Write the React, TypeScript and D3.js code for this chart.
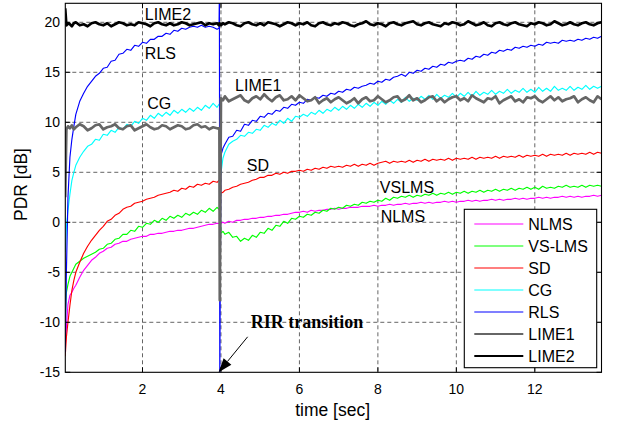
import React from 'react';
import * as d3 from 'd3';

// ---------------- data ----------------
const TIME = [
  0.03, 0.06, 0.1, 0.15, 0.2, 0.25, 0.3, 0.4, 0.5, 0.6,
  0.7, 0.8, 0.9, 1.0, 1.1, 1.2, 1.3, 1.4, 1.5, 1.6,
  1.7, 1.8, 1.9, 2.0, 2.1, 2.2, 2.3, 2.4, 2.5, 2.6,
  2.7, 2.8, 2.9, 3.0, 3.1, 3.2, 3.3, 3.4, 3.5, 3.6,
  3.7, 3.8, 3.9, 3.95,
  3.96, 3.97, 4.0, 4.05,
  4.1, 4.2, 4.3, 4.4, 4.5, 4.6, 4.7, 4.8, 4.9,
  5.0, 5.1, 5.2, 5.3, 5.4, 5.5, 5.6, 5.7, 5.8, 5.9,
  6.0, 6.1, 6.2, 6.3, 6.4, 6.5, 6.6, 6.7, 6.8, 6.9,
  7.0, 7.1, 7.2, 7.3, 7.4, 7.5, 7.6, 7.7, 7.8, 7.9,
  8.0, 8.1, 8.2, 8.3, 8.4, 8.5, 8.6, 8.7, 8.8, 8.9,
  9.0, 9.1, 9.2, 9.3, 9.4, 9.5, 9.6, 9.7, 9.8, 9.9,
  10.0, 10.1, 10.2, 10.3, 10.4, 10.5, 10.6, 10.7, 10.8, 10.9,
  11.0, 11.1, 11.2, 11.3, 11.4, 11.5, 11.6, 11.7, 11.8, 11.9,
  12.0, 12.1, 12.2, 12.3, 12.4, 12.5, 12.6, 12.7, 12.8, 12.9,
  13.0, 13.1, 13.2, 13.3, 13.4, 13.5, 13.6, 13.7,
];

const NLMS = [
  -12.5, -10.5, -8.2, -7.3, -7.0, -6.6, -6.3, -5.5, -4.8, -4.3,
  -3.8, -3.5, -3.1, -2.9, -2.6, -2.5, -2.2, -2.1, -1.9, -1.9,
  -1.7, -1.6, -1.5, -1.4, -1.4, -1.2, -1.2, -1.1, -1.1, -1.0,
  -0.9, -0.9, -0.8, -0.8, -0.7, -0.6, -0.6, -0.5, -0.4, -0.3,
  -0.2, -0.2, -0.1, -0.1,
  -0.1, -0.1, -0.1, 0.0,
  -0.1, 0.1, 0.0, 0.2, 0.2, 0.3, 0.3, 0.4, 0.4,
  0.5, 0.5, 0.6, 0.6, 0.7, 0.7, 0.8, 0.8, 0.9, 1.0,
  1.0, 1.1, 1.0, 1.2, 1.1, 1.2, 1.2, 1.3, 1.3, 1.4,
  1.3, 1.4, 1.4, 1.5, 1.5, 1.5, 1.6, 1.6, 1.6, 1.7,
  1.6, 1.7, 1.7, 1.8, 1.7, 1.8, 1.8, 1.9, 1.8, 1.9,
  1.9, 2.0, 1.9, 2.0, 1.9, 2.0, 2.0, 2.1, 2.0, 2.1,
  2.0, 2.1, 2.1, 2.2, 2.1, 2.2, 2.1, 2.2, 2.2, 2.3,
  2.2, 2.3, 2.2, 2.3, 2.3, 2.4, 2.3, 2.4, 2.3, 2.4,
  2.4, 2.5, 2.4, 2.5, 2.4, 2.5, 2.5, 2.6, 2.5, 2.6,
  2.5, 2.6, 2.5, 2.6, 2.6, 2.7, 2.6, 2.7,
];

const VSLMS = [
  -9.5, -7.0, -6.2, -5.4, -5.0, -4.6, -4.2, -3.9, -3.6, -3.4,
  -3.2, -3.0, -2.7, -2.6, -2.2, -2.1, -1.7, -1.6, -1.2, -1.2,
  -0.8, -0.9, -0.4, -0.5, -0.1, -0.2, 0.2, 0.0, 0.4, 0.2,
  0.6, 0.4, 0.7, 0.5, 0.9, 0.7, 1.0, 0.8, 1.2, 1.0,
  1.4, 1.1, 1.5, 1.3,
  1.4, 1.4, -1.1, -0.9,
  -1.2, -1.0, -1.5, -1.4, -1.9, -1.6, -1.8, -1.3, -1.5,
  -1.0, -1.1, -0.6, -0.8, -0.3, -0.4, 0.1, -0.1, 0.4, 0.3,
  0.6, 0.5, 0.8, 0.7, 1.0, 0.9, 1.2, 1.1, 1.4, 1.3,
  1.5, 1.4, 1.7, 1.6, 1.8, 1.7, 2.0, 1.9, 2.1, 2.0,
  2.2, 2.1, 2.4, 2.2, 2.5, 2.4, 2.6, 2.5, 2.7, 2.5,
  2.7, 2.6, 2.8, 2.7, 2.9, 2.7, 2.9, 2.8, 3.0, 2.8,
  3.0, 2.9, 3.1, 2.9, 3.1, 3.0, 3.2, 3.0, 3.2, 3.1,
  3.3, 3.1, 3.3, 3.2, 3.4, 3.2, 3.4, 3.3, 3.5, 3.3,
  3.5, 3.3, 3.6, 3.4, 3.5, 3.4, 3.6, 3.5, 3.7, 3.5,
  3.6, 3.5, 3.7, 3.5, 3.7, 3.6, 3.7, 3.6,
];

const SD = [
  -13.4, -11.5, -10.0, -8.3, -6.8, -5.8, -5.0, -4.0, -3.1, -2.4,
  -1.8, -1.3, -0.8, -0.4, 0.1, 0.3, 0.7, 0.9, 1.3, 1.5,
  1.6, 1.9, 2.0, 2.1, 2.3, 2.4, 2.5, 2.7, 2.8, 2.9,
  3.0, 3.2, 3.1, 3.4, 3.3, 3.6, 3.5, 3.8, 3.7, 3.9,
  3.8, 4.1, 4.0, 4.2,
  4.1, 4.1, 2.9, 3.0,
  3.2, 3.3, 3.5, 3.6, 3.8, 3.9, 4.0, 4.2, 4.3,
  4.5, 4.5, 4.7, 4.7, 4.9, 4.8, 5.0, 4.9, 5.1, 5.1,
  5.2, 5.1, 5.3, 5.2, 5.4, 5.3, 5.5, 5.4, 5.6, 5.5,
  5.6, 5.5, 5.7, 5.6, 5.8, 5.6, 5.8, 5.7, 5.9, 5.7,
  5.9, 6.0, 6.1, 5.9, 6.1, 6.0, 6.1, 6.0, 6.2, 6.0,
  6.2, 6.1, 6.3, 6.1, 6.3, 6.2, 6.3, 6.2, 6.4, 6.2,
  6.4, 6.3, 6.4, 6.3, 6.5, 6.3, 6.5, 6.4, 6.5, 6.4,
  6.6, 6.4, 6.6, 6.5, 6.6, 6.5, 6.7, 6.5, 6.7, 6.6,
  6.7, 6.6, 6.8, 6.6, 6.8, 6.7, 6.8, 6.7, 6.9, 6.7,
  6.9, 6.8, 6.9, 6.8, 7.0, 6.8, 7.0, 6.9,
];

const CG = [
  -3.0, -0.5, 1.2, 2.8, 4.2, 5.0, 5.7, 6.5, 7.1, 7.6,
  7.8, 8.3, 8.2, 8.8, 8.7, 9.2, 9.0, 9.5, 9.3, 9.8,
  9.6, 10.1, 9.9, 10.4, 10.2, 10.7, 10.4, 10.9, 10.6, 11.0,
  10.7, 11.2, 10.9, 11.3, 11.0, 11.4, 11.1, 11.5, 11.2, 11.7,
  11.4, 11.9, 11.5, 11.8,
  11.7, 11.7, 4.9, 6.4,
  7.0, 7.8, 8.1, 8.3, 8.7, 8.6, 9.0, 8.9, 9.3,
  9.2, 9.7, 9.5, 9.9, 9.7, 10.2, 9.9, 10.4, 10.1, 10.6,
  10.5, 10.8, 10.6, 11.0, 10.8, 11.2, 10.9, 11.3, 11.1, 11.5,
  11.2, 11.6, 11.3, 11.7, 11.4, 11.8, 11.5, 11.9, 11.6, 12.0,
  11.7, 12.1, 11.8, 12.2, 11.9, 12.3, 12.0, 12.5, 12.1, 12.4,
  12.2, 12.6, 12.3, 12.7, 12.3, 12.8, 12.4, 12.7, 12.5, 12.9,
  12.5, 12.9, 12.6, 13.0, 12.6, 13.1, 12.7, 13.0, 12.8, 13.2,
  12.8, 13.1, 12.9, 13.3, 12.9, 13.2, 13.0, 13.4, 13.0, 13.3,
  13.0, 13.5, 13.1, 13.4, 13.1, 13.6, 13.2, 13.4, 13.2, 13.6,
  13.2, 13.5, 13.3, 13.7, 13.3, 13.6, 13.4, 13.6,
];

const RLS = [
  -13.0, -5.0, 2.5, 6.5, 8.3, 9.6, 10.8, 12.1, 12.9, 13.6,
  14.1, 14.6, 14.9, 15.4, 15.5, 16.1, 16.2, 16.8, 16.9, 17.3,
  17.2, 17.7, 17.6, 18.0, 17.9, 18.3, 18.3, 18.6, 18.6, 18.9,
  18.8, 19.2, 19.1, 19.4, 19.3, 19.5, 19.6, 19.5, 19.7, 19.5,
  19.6, 19.5, 19.3, 19.4,
  23.0, -15.5, 6.7, 7.4,
  7.8, 8.5, 8.6, 9.2, 9.1, 9.8, 9.7, 10.2, 10.1,
  10.6, 10.5, 10.9, 10.8, 11.2, 11.1, 11.5, 11.4, 11.8, 11.7,
  12.0, 11.9, 12.3, 12.2, 12.5, 12.4, 12.7, 12.6, 12.9, 12.8,
  13.1, 13.0, 13.3, 13.2, 13.5, 13.4, 13.6, 13.7, 13.9, 13.8,
  14.1, 14.0, 14.3, 14.2, 14.5, 14.6, 14.8, 14.6, 15.0, 14.9,
  15.2, 15.1, 15.4, 15.3, 15.6, 15.5, 15.8, 15.7, 16.0, 15.9,
  16.1, 16.2, 16.1, 16.4, 16.3, 16.6, 16.5, 16.8, 16.7, 17.0,
  16.9, 17.2, 17.1, 17.3, 17.2, 17.5, 17.4, 17.6, 17.5, 17.7,
  17.6, 17.8, 17.7, 18.0, 17.9, 18.0, 17.9, 18.2, 18.1, 18.2,
  18.1, 18.3, 18.2, 18.4, 18.3, 18.5, 18.4, 18.6,
];

const LIME1 = [
  2.5, 9.3, 9.6, 9.4, 9.7, 9.3, 9.5, 9.8, 9.6, 9.2,
  9.4, 9.7, 9.8, 9.3, 9.5, 9.6, 9.8, 9.4, 9.3, 9.6,
  9.7, 9.2, 9.4, 9.6, 9.8, 9.5, 9.3, 9.4, 9.7, 9.6,
  9.3, 9.5, 9.7, 9.6, 9.3, 9.4, 9.7, 9.8, 9.5, 9.6,
  9.3, 9.5, 9.4, 9.4,
  9.4, -7.8, 12.4, 12.2,
  12.6, 12.1, 12.3, 12.5, 12.7, 12.2, 12.0, 12.4, 12.6,
  12.3, 12.8, 12.4, 12.1, 12.5, 12.7, 12.2, 12.3, 12.6, 12.2,
  12.7, 12.4, 12.1, 12.2, 12.5, 11.9, 12.2, 12.4, 12.0, 12.3,
  12.5, 12.2, 11.9, 12.1, 12.4, 11.9, 12.3, 12.5, 12.1, 12.2,
  12.6, 12.3, 12.0, 12.2, 12.5, 12.6, 12.1, 12.3, 12.7, 12.2,
  12.4, 12.0, 12.2, 12.5, 12.6, 12.1, 12.4, 12.0, 12.3, 12.5,
  12.6, 12.2, 12.4, 12.1, 12.7, 12.4, 12.2, 12.0, 12.4, 12.3,
  12.6, 11.9, 12.2, 12.4, 12.6, 12.1, 12.3, 12.0, 12.5, 12.4,
  12.6, 12.2, 12.0, 12.3, 12.6, 12.2, 12.5, 12.1, 12.3, 12.4,
  12.6, 12.0, 12.3, 12.5, 12.2, 12.0, 12.6, 12.3,
];

const LIME2 = [
  21.4, 19.7, 19.9, 19.8, 19.6, 19.9, 20.0, 19.7, 19.8, 19.6,
  19.9, 20.0, 19.8, 19.7, 19.9, 19.6, 19.8, 20.0, 19.9, 19.7,
  19.8, 19.7, 20.0, 19.9, 19.8, 19.6, 19.9, 20.0, 19.8, 19.7,
  19.9, 19.7, 19.8, 20.0, 19.9, 19.7, 19.8, 19.9, 20.0, 19.7,
  19.9, 19.8, 19.9, 19.7,
  19.9, 19.8, 19.7, 19.9,
  19.8, 20.0, 19.9, 19.7, 19.6, 19.9, 20.0, 19.8, 19.7,
  19.9, 19.7, 20.0, 19.9, 19.8, 19.6, 19.8, 20.0, 19.9, 19.7,
  19.9, 19.8, 20.0, 19.7, 19.6, 19.9, 20.0, 19.8, 19.7, 19.9,
  19.8, 20.0, 19.9, 19.7, 19.6, 19.8, 19.9, 20.1, 19.8, 19.7,
  19.9, 19.8, 19.6, 19.9, 20.0, 19.8, 19.7, 19.9, 20.0, 20.1,
  19.8, 19.7, 19.9, 20.0, 19.8, 19.7, 19.6, 19.9, 19.8, 20.0,
  19.9, 19.7, 19.8, 20.1, 19.9, 19.7, 19.8, 20.0, 19.7, 19.6,
  19.9, 20.0, 19.8, 19.7, 19.9, 20.0, 19.8, 19.7, 19.6, 19.9,
  19.8, 20.0, 19.9, 19.7, 19.8, 20.1, 19.9, 19.7, 19.8, 20.0,
  19.8, 19.7, 19.9, 20.0, 19.8, 19.7, 19.9, 20.0,
];

const SERIES_NAMES = ['NLMS', 'VS-LMS', 'SD', 'CG', 'RLS', 'LIME1', 'LIME2'];
const SERIES_VALUES = [NLMS, VSLMS, SD, CG, RLS, LIME1, LIME2];

const X_TICKS = [2, 4, 6, 8, 10, 12];
const Y_TICKS = [-15, -10, -5, 0, 5, 10, 15, 20];
const X_DOMAIN = [0.032, 13.7];
const Y_DOMAIN = [-15, 21.9];

// annotation labels [text, time, value]
const LABELS: [string, number, number][] = [
  ['LIME2', 2.06, 20.2],
  ['RLS', 2.06, 16.35],
  ['CG', 2.12, 11.3],
  ['LIME1', 4.36, 13.1],
  ['SD', 4.66, 5.17],
  ['VSLMS', 8.05, 2.9],
  ['NLMS', 8.07, 0.06],
];
const ARROW_TEXT = 'RIR transition';
const ARROW_TEXT_POS = [4.76, -10.6];
const ARROW_FROM = [4.68, -11.45];
const ARROW_TO = [3.94, -15];

// ---------------- styles ----------------
const COLORS = ['#ff00ff', '#00ff00', '#ff0000', '#00ffff', '#0000ff', '#666666', '#000000'];
const WIDTHS = [1.15, 1.15, 1.15, 1.15, 1.15, 2.7, 2.7];
const SANS = '"Liberation Sans", Arial, Helvetica, sans-serif';
const SERIF = '"Liberation Serif", "Times New Roman", serif';

export default function App() {
  const W = 618, H = 421;
  const L = 65.3, R = 601.5, T = 3.3, B = 372.3;
  const x = d3.scaleLinear().domain(X_DOMAIN).range([L, R]);
  const y = d3.scaleLinear().domain(Y_DOMAIN).range([B, T]);
  const line = d3.line<number>().x((_, i) => x(TIME[i])).y((d) => y(d));

  const ax0 = x(ARROW_FROM[0]), ay0 = y(ARROW_FROM[1]);
  const ax1 = x(ARROW_TO[0]), ay1 = y(ARROW_TO[1]);
  const ang = Math.atan2(ay1 - ay0, ax1 - ax0);
  const hl = 14, hw = 5;
  const bx = ax1 - hl * Math.cos(ang), by = ay1 - hl * Math.sin(ang);
  const head = [
    [ax1, ay1],
    [bx + hw * Math.sin(ang), by - hw * Math.cos(ang)],
    [bx - hw * Math.sin(ang), by + hw * Math.cos(ang)],
  ];

  const legX = 464.3, legY = 209.3, legW = 132.4, legH = 158.4;

  return (
    <svg width={W} height={H} style={{ position: 'absolute', left: 0, top: 0, background: '#fff' }}>
      <defs>
        <clipPath id="plotclip">
          <rect x={L} y={T} width={R - L} height={B - T} />
        </clipPath>
      </defs>
      <rect x={0} y={0} width={W} height={H} fill="#fff" />
      {/* grid */}
      <g stroke="#222" strokeWidth={0.7} strokeDasharray="4,3" fill="none">
        {X_TICKS.map((t) => (
          <line key={'gx' + t} x1={x(t)} x2={x(t)} y1={T} y2={B} />
        ))}
        {Y_TICKS.filter((v) => v > Y_DOMAIN[0]).map((v) => (
          <line key={'gy' + v} x1={L} x2={R} y1={y(v)} y2={y(v)} />
        ))}
      </g>
      {/* series */}
      <g clipPath="url(#plotclip)" fill="none" strokeLinejoin="round">
        {SERIES_VALUES.map((vals, k) => (
          <path key={SERIES_NAMES[k]} d={line(vals) || ''} stroke={COLORS[k]} strokeWidth={WIDTHS[k]} />
        ))}
      </g>
      {/* axes box + ticks */}
      <rect x={L} y={T} width={R - L} height={B - T} fill="none" stroke="#000" strokeWidth={1.1} />
      <g stroke="#000" strokeWidth={1}>
        {X_TICKS.map((t) => (
          <g key={'tx' + t}>
            <line x1={x(t)} x2={x(t)} y1={B} y2={B - 5} />
            <line x1={x(t)} x2={x(t)} y1={T} y2={T + 5} />
          </g>
        ))}
        {Y_TICKS.map((v) => (
          <g key={'ty' + v}>
            <line x1={L} x2={L + 5} y1={y(v)} y2={y(v)} />
            <line x1={R} x2={R - 5} y1={y(v)} y2={y(v)} />
          </g>
        ))}
      </g>
      <g fontFamily={SANS} fontSize={14} fill="#000">
        {X_TICKS.map((t) => (
          <text key={'lx' + t} x={x(t)} y={394.3} textAnchor="middle">{t}</text>
        ))}
        {Y_TICKS.map((v) => (
          <text key={'ly' + v} x={60} y={y(v) + 5} textAnchor="end">{v}</text>
        ))}
      </g>
      <text x={332.6} y={416} textAnchor="middle" fontFamily={SANS} fontSize={17.5}>time [sec]</text>
      <text transform="translate(26.5,184.5) rotate(-90)" textAnchor="middle" fontFamily={SANS} fontSize={17.5}>PDR [dB]</text>
      {/* annotations */}
      <g fontFamily={SANS} fontSize={16} fill="#000">
        {LABELS.map(([s, t, v]) => (
          <text key={s} x={x(t)} y={y(v)}>{s}</text>
        ))}
      </g>
      <text x={x(ARROW_TEXT_POS[0])} y={y(ARROW_TEXT_POS[1])} fontFamily={SERIF} fontWeight="bold" fontSize={18}>{ARROW_TEXT}</text>
      <line x1={ax0} y1={ay0} x2={bx} y2={by} stroke="#000" strokeWidth={1} />
      <polygon points={head.map((p) => p.join(',')).join(' ')} fill="#000" />
      {/* legend */}
      <rect x={legX} y={legY} width={legW} height={legH} fill="#fff" stroke="#000" strokeWidth={1.1} />
      {SERIES_NAMES.map((n, k) => {
        const yy = 230 + 22 * k;
        return (
          <g key={'leg' + n}>
            <line x1={474.3} x2={523.3} y1={yy - 6} y2={yy - 6} stroke={COLORS[k]} strokeWidth={WIDTHS[k] > 2 ? 2.2 : 1.1} />
            <text x={528.3} y={yy} fontFamily={SANS} fontSize={16}>{n}</text>
          </g>
        );
      })}
    </svg>
  );
}
